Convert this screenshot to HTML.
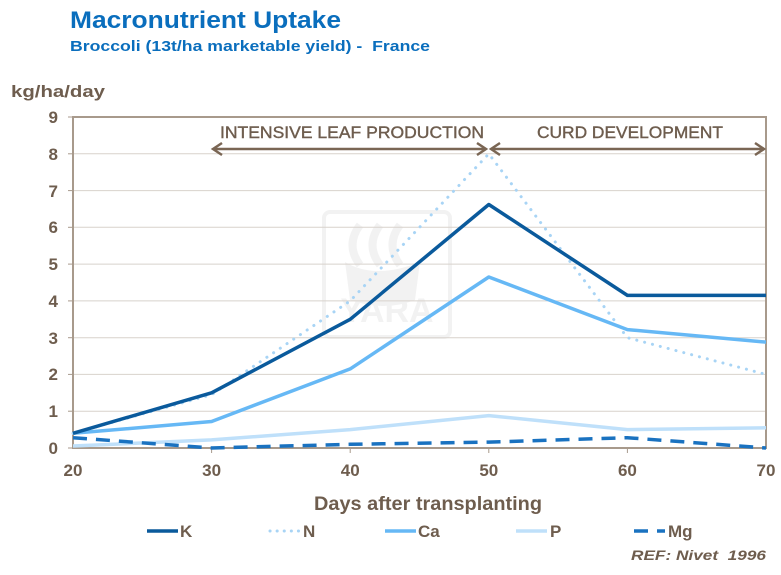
<!DOCTYPE html>
<html><head><style>
body{margin:0;background:#fff;}
svg text{font-family:"Liberation Sans",Arial,sans-serif;}
</style></head><body>
<svg width="781" height="570" xmlns="http://www.w3.org/2000/svg">
<text x="70" y="28" font-size="24" font-weight="bold" fill="#0a6ebd" textLength="271" lengthAdjust="spacingAndGlyphs">Macronutrient Uptake</text>
<text x="70" y="51" font-size="15" font-weight="bold" fill="#0a6ebd" textLength="360" lengthAdjust="spacingAndGlyphs" xml:space="preserve">Broccoli (13t/ha marketable yield) -  France</text>
<text x="11" y="97" font-size="17" font-weight="bold" fill="#6e5d4e" textLength="94" lengthAdjust="spacingAndGlyphs">kg/ha/day</text>
<!-- watermark -->
<g opacity="0.1">
<rect x="324" y="212" width="126" height="125" rx="6" fill="none" stroke="#888" stroke-width="4"/>
<text x="387" y="322" font-size="34" font-weight="bold" fill="#888" text-anchor="middle">YARA</text>
<path d="M345,262 Q375,280 420,262 L415,300 Q385,312 350,300 Z" fill="#888"/>
<path d="M360,225 Q345,245 360,265 M380,225 Q365,245 380,265 M400,225 Q385,245 400,265" stroke="#888" stroke-width="8" fill="none"/>
</g>
<!-- grid -->
<g stroke="#d8d2cc" stroke-width="1">
<line x1="73" x2="766" y1="153.8" y2="153.8"/><line x1="73" x2="766" y1="190.6" y2="190.6"/>
<line x1="73" x2="766" y1="227.3" y2="227.3"/><line x1="73" x2="766" y1="264.1" y2="264.1"/>
<line x1="73" x2="766" y1="300.9" y2="300.9"/><line x1="73" x2="766" y1="337.7" y2="337.7"/>
<line x1="73" x2="766" y1="374.4" y2="374.4"/><line x1="73" x2="766" y1="411.2" y2="411.2"/>
</g>
<g stroke="#a89a8c" stroke-width="2" fill="none">
<rect x="73" y="117" width="693" height="331"/>
</g>
<g stroke="#a89a8c" stroke-width="1">
<line x1="68" x2="73" y1="117" y2="117"/><line x1="68" x2="73" y1="153.8" y2="153.8"/><line x1="68" x2="73" y1="190.6" y2="190.6"/><line x1="68" x2="73" y1="227.3" y2="227.3"/><line x1="68" x2="73" y1="264.1" y2="264.1"/><line x1="68" x2="73" y1="300.9" y2="300.9"/><line x1="68" x2="73" y1="337.7" y2="337.7"/><line x1="68" x2="73" y1="374.4" y2="374.4"/><line x1="68" x2="73" y1="411.2" y2="411.2"/><line x1="68" x2="73" y1="448" y2="448"/>
<line x1="211.6" x2="211.6" y1="448" y2="453"/><line x1="350.2" x2="350.2" y1="448" y2="453"/><line x1="488.8" x2="488.8" y1="448" y2="453"/><line x1="627.4" x2="627.4" y1="448" y2="453"/>
</g>
<g font-size="17" font-weight="bold" fill="#6e5d4e" text-anchor="end">
<text x="58" y="123">9</text><text x="58" y="160">8</text><text x="58" y="197">7</text><text x="58" y="233">6</text><text x="58" y="270">5</text><text x="58" y="307">4</text><text x="58" y="344">3</text><text x="58" y="380">2</text><text x="58" y="417">1</text><text x="58" y="454">0</text>
</g>
<g font-size="17" font-weight="bold" fill="#6e5d4e" text-anchor="middle">
<text x="73" y="476">20</text><text x="211.6" y="476">30</text><text x="350.2" y="476">40</text><text x="488.8" y="476">50</text><text x="627.4" y="476">60</text><text x="766" y="476">70</text>
</g>
<text x="314" y="510" font-size="19" font-weight="bold" fill="#6e5d4e" textLength="228" lengthAdjust="spacingAndGlyphs">Days after transplanting</text>
<!-- phases -->
<g stroke="#7a6654" stroke-width="2.5" fill="none">
<line x1="213" x2="486" y1="149" y2="149"/><path d="M222,143 L213,149 L222,155"/><path d="M477,143 L486,149 L477,155"/>
<line x1="491" x2="764" y1="149" y2="149"/><path d="M500,143 L491,149 L500,155"/><path d="M755,143 L764,149 L755,155"/>
</g>
<g font-size="17" fill="#6e5d4e" stroke="#6e5d4e" stroke-width="0.4">
<text x="220" y="138" textLength="264" lengthAdjust="spacingAndGlyphs">INTENSIVE LEAF PRODUCTION</text>
<text x="537" y="138" textLength="186" lengthAdjust="spacingAndGlyphs">CURD DEVELOPMENT</text>
</g>
<!-- series -->
<g fill="none" stroke-linejoin="round">
<polyline stroke="#a8d4f5" stroke-width="3" stroke-dasharray="0.1 8" stroke-linecap="round" points="73,433.3 211.6,394.7 350.2,300.9 488.8,153.8 627.4,337.7 766,374.4"/>
<polyline stroke="#bfe0fa" stroke-width="3.5" points="73,446 211.6,439.9 350.2,429.6 488.8,415.6 627.4,429.6 766,427.8"/>
<polyline stroke="#66b8f5" stroke-width="3.5" points="73,433.3 211.6,421.5 350.2,368.9 488.8,277 627.4,329.6 766,342.1"/>
<polyline stroke="#0a5a9c" stroke-width="3.5" points="73,433.3 211.6,392.8 350.2,319.3 488.8,204.5 627.4,295.4 766,295.4"/>
<polyline stroke="#1a72c0" stroke-width="3.5" stroke-dasharray="14 9" points="73,437.7 211.6,448 350.2,444.3 488.8,442.1 627.4,437.7 766,448"/>
</g>
<!-- legend -->
<g stroke-width="3.5">
<line x1="147" x2="178" y1="531" y2="531" stroke="#0a5a9c"/>
<line x1="270" x2="301" y1="531" y2="531" stroke="#a8d4f5" stroke-dasharray="0.1 7" stroke-linecap="round" stroke-width="3"/>
<line x1="385" x2="416" y1="531" y2="531" stroke="#66b8f5"/>
<line x1="516" x2="547" y1="531" y2="531" stroke="#bfe0fa"/>
<line x1="634" x2="665" y1="531" y2="531" stroke="#1a72c0" stroke-dasharray="14 9"/>
</g>
<g font-size="17" font-weight="bold" fill="#6e5d4e">
<text x="180" y="537">K</text><text x="303" y="537">N</text><text x="418" y="537">Ca</text><text x="550" y="537">P</text><text x="668" y="537">Mg</text>
</g>
<text x="631" y="560" font-size="14" font-weight="bold" font-style="italic" fill="#6e5d4e" textLength="135" lengthAdjust="spacingAndGlyphs" xml:space="preserve">REF: Nivet  1996</text>
</svg>
</body></html>
